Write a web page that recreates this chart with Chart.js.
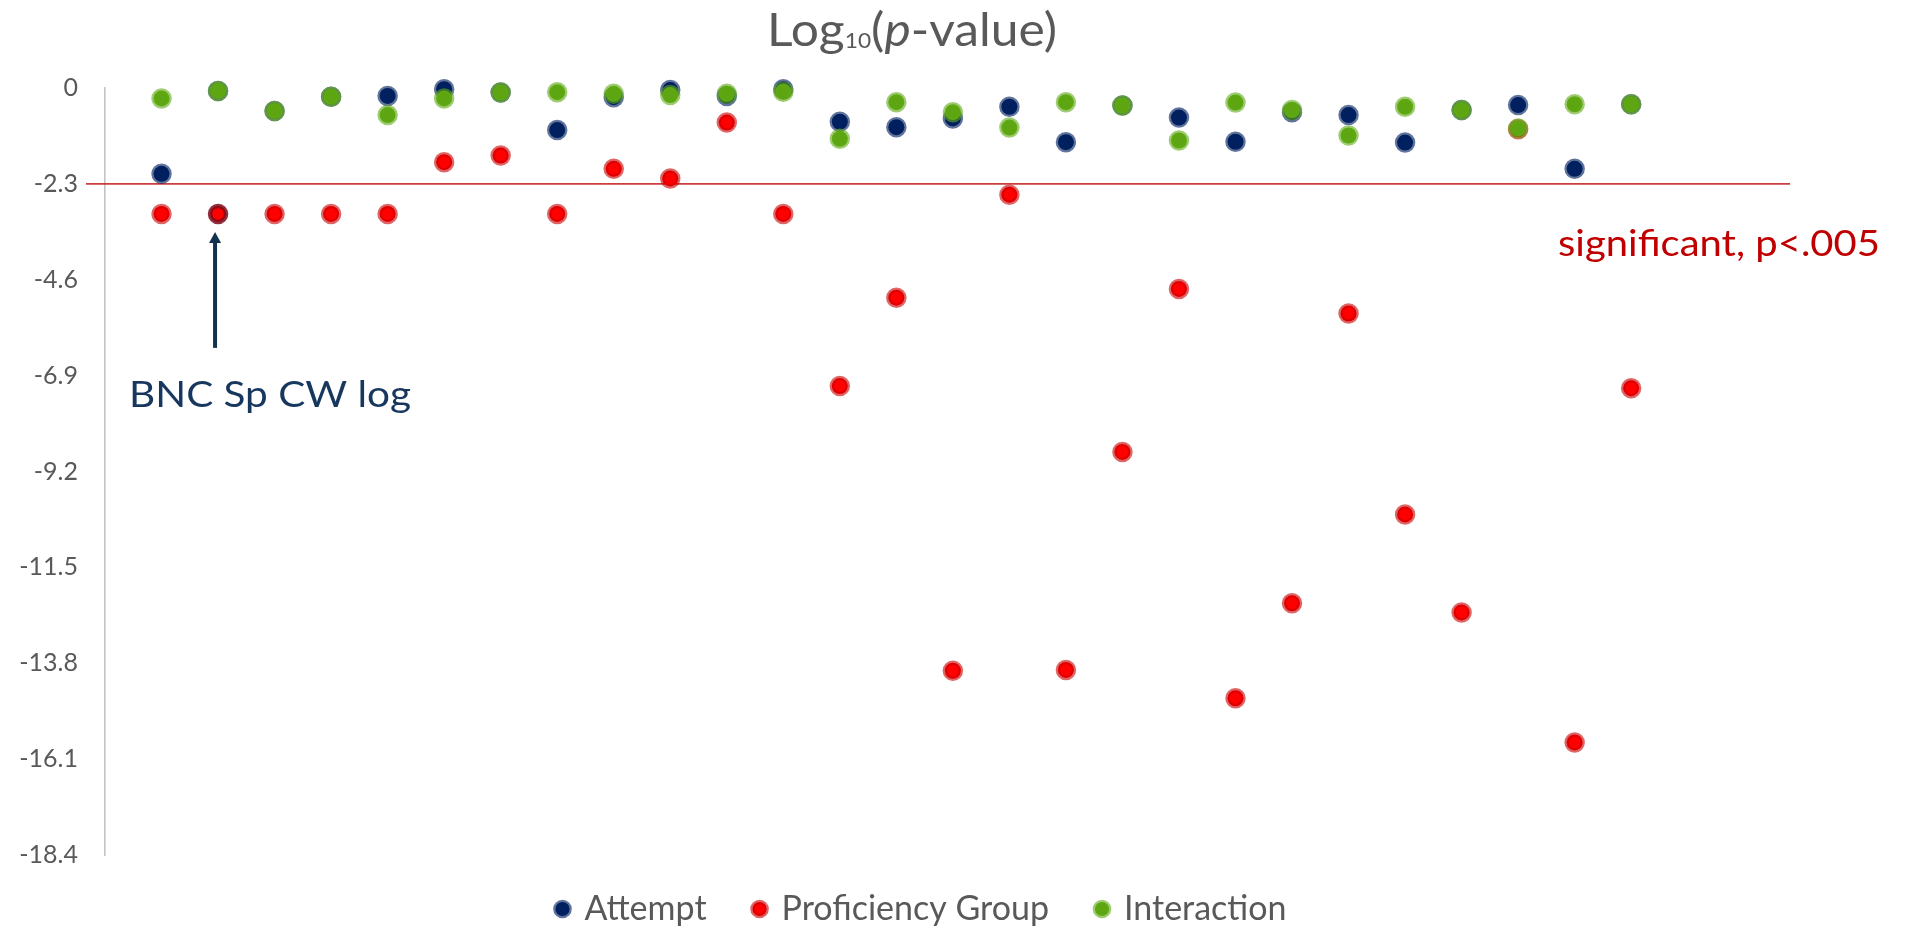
<!DOCTYPE html>
<html>
<head>
<meta charset="utf-8">
<title>Log10(p-value)</title>
<script src="https://cdn.jsdelivr.net/npm/chart.js@4.4.1/dist/chart.umd.min.js"></script>
<style>
  html, body { margin: 0; padding: 0; background: #ffffff; overflow: hidden; }
  #wrap { width: 1909px; height: 932px; position: relative; }
  canvas { display: block; }
</style>
</head>
<body>
<div id="wrap"><canvas id="chart" width="1909" height="932"></canvas></div>
<script>
// Measure positions along the horizontal axis (one per measure, unlabeled)
const positions = [1, 2, 3, 4, 5, 6, 7, 8, 9, 10, 11, 12, 13, 14, 15, 16, 17, 18, 19, 20, 21, 22, 23, 24, 25, 26, 27];

// log10(p) for each effect
const attempt = [-2.06, -0.07, -0.55, -0.21, -0.19, -0.03, -0.11, -1.01, -0.22, -0.05, -0.19, -0.03, -0.81, -0.94,
                 -0.73, -0.45, -1.30, -0.42, -0.71, -1.29, -0.58, -0.65, -1.31, -0.53, -0.41, -1.94, -0.39];
const proficiency = [-3.02, -3.02, -3.02, -3.02, -3.02, -1.78, -1.62, -3.02, -1.94, -2.17, -0.83, -3.02, -7.15, -5.03,
                     -13.98, -2.56, -13.96, -8.73, -4.82, -14.64, -12.36, -5.41, -10.23, -12.58, -0.99, -15.70, -7.20];
const interaction = [-0.25, -0.07, -0.55, -0.21, -0.65, -0.25, -0.11, -0.10, -0.14, -0.17, -0.14, -0.09, -1.22, -0.34,
                     -0.58, -0.95, -0.34, -0.42, -1.26, -0.35, -0.53, -1.14, -0.45, -0.53, -0.97, -0.39, -0.39];

const seriesNames = ['Attempt', 'Proficiency Group', 'Interaction'];
const yTicks = [0, -2.3, -4.6, -6.9, -9.2, -11.5, -13.8, -16.1, -18.4];
const threshold = -2.301;          // log10(.005)
const thresholdLabel = 'significant, p<.005';
const calloutIndex = 1;            // the highlighted measure
const calloutLabel = 'BNC Sp CW log';

const FONT = 'Lato, "Noto Sans", sans-serif';
const GREY = '#595959';
const LEGEND_SIZE = 34;
const LEGEND_PAD = 48;

const toPoints = vals => positions.map((x, i) => ({ x: x, y: vals[i] }));

const pointBase = { pointRadius: 8, pointHoverRadius: 8, borderWidth: 4.5, pointBorderWidth: 4.5, showLine: false, clip: false };

const profBorder = proficiency.map((v, i) => i === calloutIndex ? 'rgba(125,10,25,0.85)' : 'rgba(200,0,0,0.6)');

function fitText(ctx, text, x, y, font, width, color) {
  ctx.save();
  ctx.font = font;
  const w = ctx.measureText(text).width;
  ctx.translate(x, y);
  ctx.scale(width / w, 1);
  ctx.fillStyle = color;
  ctx.textAlign = 'left';
  ctx.textBaseline = 'alphabetic';
  ctx.fillText(text, 0, 0);
  ctx.restore();
}

const decorations = {
  id: 'decorations',
  afterLayout(chart) {
    // place the legend row just below the plot, slightly right of centre
    const lg = chart.legend;
    if (lg) {
      lg.top = 909 - LEGEND_SIZE / 2 - LEGEND_PAD;
      lg.bottom = 932;
      lg.left += 27;
      lg.right += 27;
    }
  },
  beforeDatasetsDraw(chart) {
    const { ctx, chartArea } = chart;
    const y = chart.scales.y.getPixelForValue(threshold);
    ctx.save();
    ctx.strokeStyle = 'rgba(200,40,40,0.9)';
    ctx.lineWidth = 1.6;
    ctx.beginPath();
    ctx.moveTo(chartArea.left - 19, y);
    ctx.lineTo(chartArea.right, y);
    ctx.stroke();
    ctx.restore();
  },
  afterDatasetsDraw(chart) {
    const { ctx } = chart;
    const xs = chart.scales.x, ys = chart.scales.y;

    // title: Log10(p-value)
    ctx.save();
    ctx.fillStyle = GREY;
    ctx.textBaseline = 'alphabetic';
    const main = '46px ' + FONT, sub = '21px ' + FONT, ital = 'italic 46px ' + FONT;
    const parts = [['Log', main, 0], ['10', sub, 2], ['(', main, 0], ['p', ital, 0], ['-value)', main, 0]];
    let total = 0;
    parts.forEach(p => { ctx.font = p[1]; p.push(ctx.measureText(p[0]).width); total += p[3]; });
    const sx = 290 / total;
    ctx.translate(912 - 145, 45.5);
    ctx.scale(sx, 1);
    let cx = 0;
    parts.forEach(p => { ctx.font = p[1]; ctx.fillText(p[0], cx, p[2]); cx += p[3]; });
    ctx.restore();

    // callout arrow and label for the highlighted measure
    const px = xs.getPixelForValue(positions[calloutIndex]) - 3;
    const py = ys.getPixelForValue(proficiency[calloutIndex]);
    ctx.save();
    ctx.strokeStyle = '#12324f';
    ctx.fillStyle = '#12324f';
    ctx.lineWidth = 4;
    ctx.beginPath();
    ctx.moveTo(px, py + 134);
    ctx.lineTo(px, py + 26);
    ctx.stroke();
    ctx.beginPath();
    ctx.moveTo(px, py + 18);
    ctx.lineTo(px - 6, py + 29);
    ctx.lineTo(px + 6, py + 29);
    ctx.closePath();
    ctx.fill();
    ctx.restore();
    fitText(ctx, calloutLabel, px - 86, py + 193, '37px ' + FONT, 282, '#17375e');

    // threshold label
    const ty = ys.getPixelForValue(threshold);
    fitText(ctx, thresholdLabel, 1558, ty + 72, '37px ' + FONT, 322, '#c00000');
  }
};

new Chart(document.getElementById('chart'), {
  type: 'scatter',
  data: {
    datasets: [
      Object.assign({ label: seriesNames[0], data: toPoints(attempt), order: 3,
        backgroundColor: '#002060', borderColor: 'rgba(0,32,96,0.62)',
        pointBackgroundColor: '#002060', pointBorderColor: 'rgba(0,32,96,0.62)' }, pointBase),
      Object.assign({ label: seriesNames[1], data: toPoints(proficiency), order: 2,
        backgroundColor: '#ff0000', borderColor: 'rgba(200,0,0,0.6)',
        pointBackgroundColor: '#ff0000', pointBorderColor: profBorder }, pointBase),
      Object.assign({ label: seriesNames[2], data: toPoints(interaction), order: 1,
        backgroundColor: '#5ea512', borderColor: 'rgba(95,170,20,0.6)',
        pointBackgroundColor: '#5ea512', pointBorderColor: 'rgba(95,170,20,0.6)' }, pointBase)
    ]
  },
  options: {
    responsive: false,
    animation: false,
    devicePixelRatio: 1,
    layout: { padding: { top: 88, right: 119, left: 0, bottom: 0 } },
    plugins: {
      title: { display: false },
      tooltip: { enabled: false },
      legend: {
        display: true,
        position: 'bottom',
        maxHeight: 77,
        labels: {
          usePointStyle: true,
          pointStyle: 'circle',
          boxWidth: 10,
          boxHeight: 10,
          padding: LEGEND_PAD,
          color: GREY,
          font: { family: FONT, size: LEGEND_SIZE },
          sort: (a, b) => a.datasetIndex - b.datasetIndex
        }
      }
    },
    scales: {
      x: {
        type: 'linear',
        min: 0,
        max: 29.81,
        display: false
      },
      y: {
        type: 'linear',
        min: -18.4,
        max: 0,
        afterBuildTicks(scale) { scale.ticks = yTicks.map(v => ({ value: v })); },
        afterFit(scale) { scale.width = 105; },
        grid: { display: false, drawTicks: false },
        border: { display: true, color: '#c4c4c4', width: 1.6 },
        ticks: {
          padding: 27,
          color: GREY,
          font: { family: FONT, size: 25 },
          callback: v => String(v)
        }
      }
    }
  },
  plugins: [decorations]
});
</script>
</body>
</html>
